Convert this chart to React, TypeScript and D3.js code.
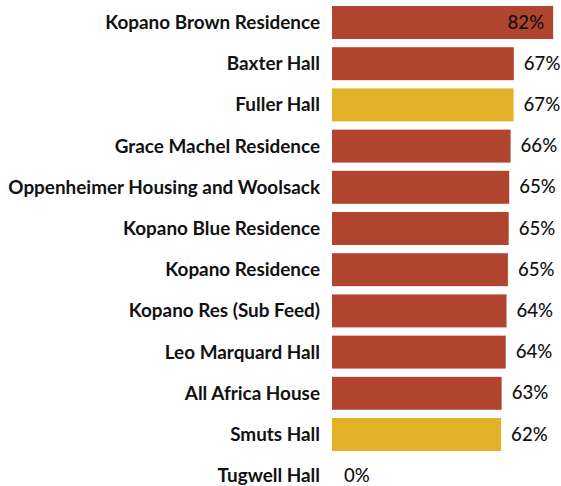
import React from "react";
import * as d3 from "d3";

const categories = [
  "Kopano Brown Residence",
  "Baxter Hall",
  "Fuller Hall",
  "Grace Machel Residence",
  "Oppenheimer Housing and Woolsack",
  "Kopano Blue Residence",
  "Kopano Residence",
  "Kopano Res (Sub Feed)",
  "Leo Marquard Hall",
  "All Africa House",
  "Smuts Hall",
  "Tugwell Hall",
];
const values = [81.6, 67.1, 67.0, 65.9, 65.4, 65.2, 64.9, 64.4, 64.1, 62.6, 62.4, 0];
const highlighted = ["Fuller Hall", "Smuts Hall"];

const W = 561;
const H = 486;
const RED = "#b0442e";
const YELLOW = "#e3b027";

export default function App() {
  const x = d3.scaleLinear().domain([0, 100]).range([332, 603]);
  const y = d3
    .scaleBand<string>()
    .domain(categories)
    .range([1.9, 496.3])
    .paddingInner(0.2)
    .paddingOuter(0.1);

  return (
    <svg
      width={W}
      height={H}
      style={{ position: "absolute", left: 0, top: 0, background: "#fff" }}
      fontFamily="Lato, sans-serif"
    >
      {categories.map((c, i) => {
        const v = values[i];
        const y0 = y(c)!;
        const bh = y.bandwidth();
        const cy = y0 + bh / 2 - 1;
        const xEnd = x(v);
        const inside = v > 75;
        return (
          <g key={c}>
            <text
              x={320}
              y={cy}
              textAnchor="end"
              dominantBaseline="central"
              fontSize={18.9}
              fontWeight={700}
              fill="#111"
            >
              {c}
            </text>
            {v > 0 && (
              <rect
                x={x(0)}
                y={y0}
                width={xEnd - x(0)}
                height={bh}
                fill={highlighted.includes(c) ? YELLOW : RED}
              />
            )}
            <text
              x={inside ? xEnd - 9 : v > 0 ? xEnd + 10 : x(0) + 12}
              y={cy}
              textAnchor={inside ? "end" : "start"}
              dominantBaseline="central"
              fontSize={18.6}
              fontWeight={500}
              fill="#111"
            >
              {`${Math.round(v)}%`}
            </text>
          </g>
        );
      })}
    </svg>
  );
}
